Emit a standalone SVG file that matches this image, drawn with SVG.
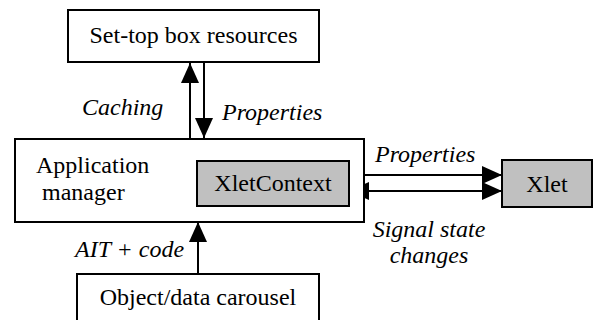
<svg xmlns="http://www.w3.org/2000/svg" width="595" height="320" viewBox="0 0 595 320">
<style>
.box{fill:#fff;stroke:#000;stroke-width:2}
.gray{fill:#c0c0c0;stroke:#000;stroke-width:2}
text{font-family:'Liberation Serif','Tinos','DejaVu Serif',serif;font-size:24px;fill:#000}
.i{font-style:italic}
.c{stroke:#000;stroke-width:2;fill:none}
</style>
<defs>
<marker id="ah" markerUnits="userSpaceOnUse" markerWidth="20" markerHeight="20" refX="20" refY="10" orient="auto-start-reverse" viewBox="0 0 20 20">
<path d="M0,1 L20,10 L0,19 z" fill="#000"/>
</marker>
</defs>
<rect width="595" height="320" fill="#fff"/>
<g id="connectors">
<path class="c" d="M190,139 L190,63" marker-end="url(#ah)"/>
<path class="c" d="M204,62 L204,138" marker-end="url(#ah)"/>
<path class="c" d="M349,175 L502,175" marker-end="url(#ah)"/>
<path class="c" d="M349,191 L502,191" marker-start="url(#ah)" marker-end="url(#ah)"/>
<path class="c" d="M198,274 L198,222" marker-end="url(#ah)"/>
<text class="i" x="82" y="115">Caching</text>
<text class="i" x="222" y="120">Properties</text>
<text class="i" x="375" y="162">Properties</text>
<text class="i" x="429" y="237" text-anchor="middle">Signal state</text>
<text class="i" x="429" y="263" text-anchor="middle">changes</text>
<text class="i" x="75" y="257">AIT + code</text>
</g>
<g id="stb">
<rect class="box" x="68" y="10" width="251" height="52"/>
<text x="193.5" y="43" text-anchor="middle">Set-top box resources</text>
</g>
<g id="appmgr">
<rect class="box" x="15" y="139" width="349" height="83"/>
<text x="36" y="173">Application</text>
<text x="42" y="200">manager</text>
</g>
<g id="xletcontext">
<rect class="gray" x="197" y="161" width="152" height="45"/>
<text x="273" y="191" text-anchor="middle">XletContext</text>
</g>
<g id="xlet">
<rect class="gray" x="502" y="160" width="90" height="47"/>
<text x="547" y="192" text-anchor="middle">Xlet</text>
</g>
<g id="carousel">
<rect class="box" x="77" y="274" width="242" height="50"/>
<text x="198" y="305" text-anchor="middle">Object/data carousel</text>
</g>
</svg>
